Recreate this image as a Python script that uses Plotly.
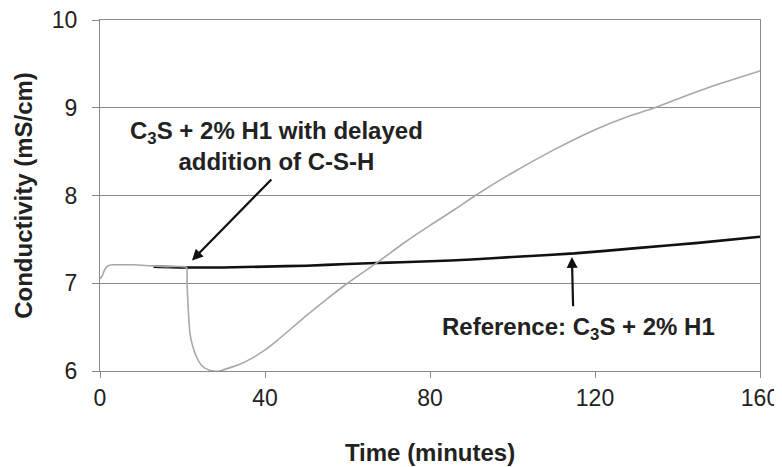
import plotly.graph_objects as go

# delayed C-S-H addition (grey)
delayed_time = [0, 0.5, 1, 1.5, 2, 3, 5, 8, 12, 16, 20, 21, 21.1, 21.4, 21.8, 22.5,
                23.4, 24.5, 25.5, 27.4, 29, 31, 34, 37, 40, 43, 46, 50, 55, 60,
                67, 74, 80, 86, 91, 100, 110, 120, 128, 134.5, 140, 150, 160]
delayed_cond = [7.05, 7.08, 7.14, 7.18, 7.20, 7.21, 7.21, 7.21, 7.20, 7.19, 7.19, 7.18,
                7.0, 6.7, 6.43, 6.28, 6.16, 6.07, 6.03, 6.0, 6.0, 6.03, 6.08, 6.15,
                6.24, 6.35, 6.47, 6.63, 6.82, 7.0, 7.23, 7.47, 7.66, 7.84, 8.0, 8.26,
                8.52, 8.75, 8.9, 9.0, 9.1, 9.27, 9.42]

# reference C3S + 2% H1 (black)
ref_time = [13, 21, 30, 40, 50, 60, 67, 73, 80, 90, 100, 115, 130, 145, 160]
ref_cond = [7.19, 7.18, 7.18, 7.19, 7.2, 7.22, 7.23, 7.24, 7.25, 7.27, 7.3, 7.34,
            7.4, 7.46, 7.53]

x_ticks = [0, 40, 80, 120, 160]
y_ticks = [6, 7, 8, 9, 10]

FONT = "Liberation Sans, Arial, sans-serif"

fig = go.Figure()
fig.add_trace(go.Scatter(x=ref_time, y=ref_cond, mode="lines",
                         line=dict(color="#111111", width=2.6, shape="spline", smoothing=0.6)))
fig.add_trace(go.Scatter(x=delayed_time, y=delayed_cond, mode="lines",
                         line=dict(color="#a8a8a8", width=1.6, shape="spline", smoothing=0.6)))

# labels
fig.add_annotation(x=42.9, y=8.56, text="<b>C<sub>3</sub>S + 2% H1 with delayed<br>addition of C-S-H</b>",
                   showarrow=False, align="center", font=dict(size=24, color="#222"))
fig.add_annotation(x=115.9, y=6.49, text="<b>Reference: C<sub>3</sub>S + 2% H1</b>",
                   showarrow=False, font=dict(size=24, color="#222"))

# arrows
fig.add_annotation(x=22.3, y=7.26, ax=41.9, ay=8.2, xref="x", yref="y", axref="x", ayref="y",
                   text="", showarrow=True, arrowhead=2, arrowsize=1, arrowwidth=2.2,
                   arrowcolor="#111")
fig.add_annotation(x=114.4, y=7.3, ax=114.7, ay=6.72, xref="x", yref="y", axref="x", ayref="y",
                   text="", showarrow=True, arrowhead=2, arrowsize=1, arrowwidth=2.2,
                   arrowcolor="#111")

fig.update_xaxes(range=[0, 160], tickvals=x_ticks, showgrid=False, zeroline=False,
                 showline=True, linecolor="#8a8a8a", linewidth=1.2, mirror=True,
                 ticks="outside", ticklen=6, tickcolor="#8a8a8a", automargin=False,
                 ticklabeloverflow="allow",
                 tickfont=dict(size=23, color="#222"),
                 title=dict(text="<b>Time (minutes)</b>", font=dict(size=24, color="#222"),
                            standoff=34))
fig.update_yaxes(range=[6, 10], tickvals=y_ticks, showgrid=True, gridcolor="#8a8a8a",
                 gridwidth=1.2, zeroline=False, showline=True, linecolor="#8a8a8a",
                 linewidth=1.2, mirror=True, ticks="outside", ticklen=7, tickcolor="#8a8a8a",
                 automargin=False, ticklabelstandoff=10, ticklabeloverflow="allow",
                 tickfont=dict(size=23, color="#222"),
                 title=dict(text="<b>Conductivity (mS/cm)</b>", font=dict(size=24, color="#222"),
                            standoff=12))

# page has an 8px body margin; margins are shifted to compensate
fig.update_layout(width=782, height=459, margin=dict(l=92, r=30, t=12, b=96),
                  showlegend=False, plot_bgcolor="white", paper_bgcolor="white",
                  font=dict(family=FONT))

fig.write_html("out.html")
